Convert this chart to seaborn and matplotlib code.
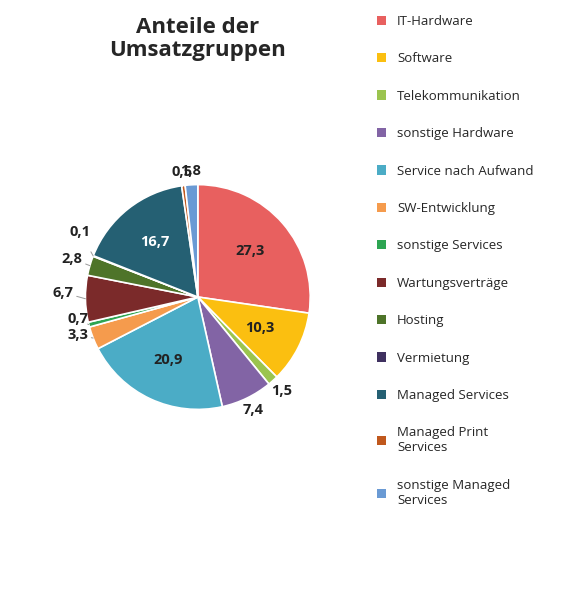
import numpy as np
import matplotlib
matplotlib.use("Agg")
import matplotlib.pyplot as plt
import seaborn as sns
from matplotlib.patches import Patch

categories = ["IT-Hardware", "Software", "Telekommunikation", "sonstige Hardware",
              "Service nach Aufwand", "SW-Entwicklung", "sonstige Services",
              "Wartungsverträge", "Hosting", "Vermietung", "Managed Services",
              "Managed Print\nServices", "sonstige Managed\nServices"]
values = [27.3, 10.3, 1.5, 7.4, 20.9, 3.3, 0.7, 6.7, 2.8, 0.1, 16.7, 0.5, 1.8]
colors = ["#E8605F", "#FBBF10", "#9BC44F", "#8264A5", "#4BACC6", "#F59B4D", "#2DA552",
          "#7B2A2A", "#4E7429", "#3F3160", "#256073", "#C0581D", "#6A9AD4"]

sns.set_theme(style="white")
plt.rcParams["font.family"] = ["Open Sans", "DejaVu Sans"]

fig = plt.figure(figsize=(5.62, 6), dpi=100)
ax = fig.add_axes([0.352 - 0.26, 0.505 - 0.2435, 0.52, 0.487])
wedges, _ = ax.pie(values, colors=colors, startangle=90, counterclock=False,
                   wedgeprops=dict(edgecolor="white", linewidth=1.2))
ax.set_aspect("equal")
ax.set_xlim(-1.3, 1.3)
ax.set_ylim(-1.05, 1.05)

def fmt(v):
    return f"{v:.1f}".replace(".", ",")

inside = {0: "#222222", 1: "#222222", 4: "#222222", 10: "white"}
leader = {9: (-1.05, 0.58), 8: (-1.12, 0.34), 6: (-1.07, -0.2), 5: (-1.07, -0.34), 7: (-1.2, 0.04)}
for i, (w, v) in enumerate(zip(wedges, values)):
    ang = np.deg2rad((w.theta1 + w.theta2) / 2)
    cx, cy = np.cos(ang), np.sin(ang)
    kw = dict(ha="center", va="center", fontsize=10.5, fontweight="bold", annotation_clip=False)
    if i in inside:
        ax.annotate(fmt(v), xy=(0.62 * cx, 0.62 * cy), color=inside[i], **kw)
    elif i in leader:
        lx, ly = leader[i]
        ax.annotate(fmt(v), xy=(cx, cy), xytext=(lx, ly), color="#222222",
                    arrowprops=dict(arrowstyle="-", color="#999999", lw=0.7, shrinkA=8, shrinkB=0),
                    **kw)
    else:
        ax.annotate(fmt(v), xy=(1.12 * cx, 1.12 * cy), color="#222222", **kw)

fig.text(0.352, 0.935, "Anteile der\nUmsatzgruppen", ha="center", va="center",
         fontsize=16, fontweight="bold", linespacing=1.1)

handles = [Patch(facecolor=c, edgecolor="none") for c in colors]
fig.legend(handles, categories, loc="upper left", bbox_to_anchor=(0.65, 0.995),
           frameon=False, fontsize=9.5, labelspacing=1.85, handlelength=0.7,
           handleheight=0.7, handletextpad=0.8)

fig.savefig("out.png", dpi=100)
